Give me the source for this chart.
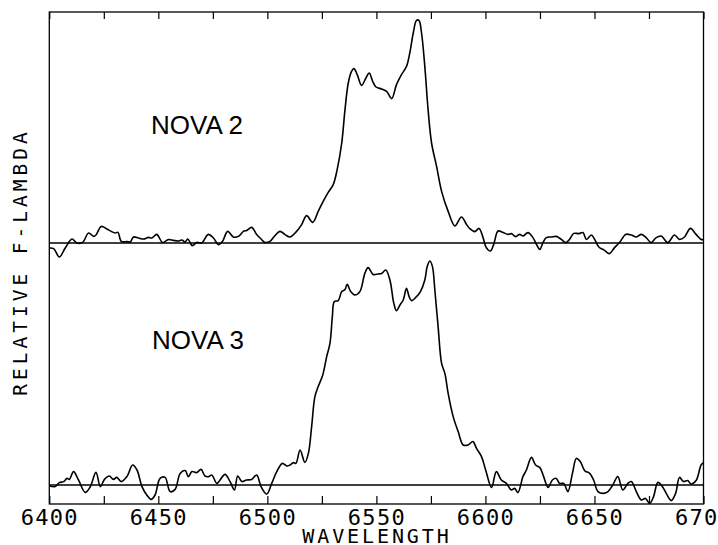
<!DOCTYPE html>
<html>
<head>
<meta charset="utf-8">
<script src="https://cdn.jsdelivr.net/npm/d3@7"></script>
<style>
  body { margin: 0; background: #fff; }
  .tick-label { font-family: "DejaVu Sans Mono", monospace; font-size: 22px; letter-spacing: 1.3px; }
  .axis-title { font-family: "DejaVu Sans Mono", monospace; fill: #000; }
  .nova-label { font-family: "Liberation Sans", Arial, sans-serif; font-size: 26px; fill: #000; }
</style>
</head>
<body>
<div id="chart"></div>
<script>
// Data: wavelength (Angstrom) and relative flux
const nova2Wave = [6400.0, 6402.0, 6404.6, 6407.3, 6410.4, 6412.7, 6415.3, 6418.0, 6420.3, 6421.4,
  6423.8, 6426.4, 6428.4, 6430.2, 6431.5, 6433.0, 6435.6, 6437.1, 6438.6, 6440.9,
  6443.2, 6445.5, 6447.0, 6449.3, 6451.9, 6454.6, 6456.9, 6459.2, 6460.8, 6462.3,
  6463.5, 6465.6, 6467.6, 6469.9, 6472.9, 6475.3, 6477.5, 6479.4, 6481.8, 6484.4,
  6486.7, 6489.0, 6490.5, 6492.8, 6495.1, 6497.1, 6498.9, 6501.2, 6503.2, 6505.8,
  6508.1, 6510.4, 6513.4, 6515.7, 6518.0, 6520.8, 6523.3, 6525.6, 6527.9, 6530.2,
  6532.0, 6534.1, 6535.6, 6537.1, 6538.6, 6539.7, 6541.2, 6543.2, 6545.2, 6546.7,
  6548.3, 6549.8, 6552.4, 6554.7, 6557.0, 6559.2, 6561.5, 6563.8, 6565.3, 6566.9,
  6568.4, 6569.5, 6570.7, 6572.2, 6573.7, 6575.3, 6577.6, 6579.9, 6582.9, 6586.0,
  6589.0, 6591.3, 6592.8, 6595.1, 6597.1, 6598.9, 6600.4, 6602.3, 6603.8, 6605.8,
  6608.1, 6610.4, 6611.9, 6613.9, 6615.7, 6617.2, 6619.5, 6621.8, 6623.4, 6624.9,
  6626.4, 6627.9, 6630.2, 6632.5, 6634.8, 6636.8, 6638.6, 6640.5, 6642.9, 6644.7,
  6646.3, 6648.6, 6650.1, 6652.0, 6654.6, 6656.9, 6659.2, 6661.5, 6664.3, 6666.9,
  6669.2, 6671.5, 6673.7, 6676.0, 6678.3, 6680.6, 6683.6, 6686.7, 6689.0, 6691.3,
  6694.0, 6696.6, 6698.9, 6700.0];
const nova2Flux = [-2.5, -2.8, -7, -2.5, 2, 0, 0.3, 5, 3.3, 4,
  8.3, 7, 5.8, 5, 5.3, 0.8, 0.7, 0.5, 3, 2.5,
  2, 2.8, 2.5, 4.3, 0.3, 1.7, 1.3, 1, 1.5, 0.5,
  2, -1.3, 0.3, 0, 4.3, 2.5, -0.8, 0.8, 5.8, 3,
  3.3, 5.8, 6.3, 7.8, 4.2, 2, 0.3, 0.8, 3.3, 5.8,
  4.2, 3, 5.8, 9.2, 13.7, 10.3, 15.8, 20.8, 25.3, 29.2,
  36.7, 50, 66.7, 80, 85.8, 87.2, 84.2, 78.8, 82.5, 85,
  80.8, 78, 77, 75.8, 72.2, 79.2, 84.2, 88.3, 95, 105,
  111.3, 111.3, 105, 88.3, 66.7, 50, 38.3, 25.8, 15.8, 8.5,
  13, 9.3, 7.2, 5.7, 7.3, 2.7, -2.3, -4, -0.7, 6,
  5.2, 4.3, 4.7, 3.2, 4.3, 3.5, 5.2, 2.7, -0.7, -3.2,
  0.2, 2.7, 3, 3.3, 1.8, 0.2, 1.8, 4.8, 4.7, 5.2,
  1.8, 4, 1.8, -2, -3.7, -5.3, -2.3, 0.2, 4.3, 4,
  3, 4.3, 2.7, 0.2, 2.7, 3.5, 0.2, 4, 1.8, 3,
  7.3, 4.3, 1.8, 1.7];

const nova3Wave = [6400.0, 6402.7, 6404.6, 6406.6, 6408.1, 6409.2, 6411.1, 6413.4, 6416.5, 6418.8,
  6421.4, 6423.4, 6425.3, 6427.5, 6429.4, 6431.0, 6433.0, 6435.6, 6438.2, 6440.2,
  6442.5, 6444.7, 6446.7, 6448.5, 6450.8, 6453.1, 6455.4, 6457.7, 6460.0, 6462.3,
  6463.8, 6465.4, 6467.6, 6469.6, 6471.4, 6473.0, 6474.5, 6476.8, 6478.3, 6480.6,
  6482.9, 6484.9, 6486.4, 6488.3, 6490.5, 6492.8, 6495.1, 6497.1, 6499.7, 6502.0,
  6504.3, 6506.9, 6508.9, 6510.4, 6511.9, 6513.1, 6515.0, 6517.2, 6518.8, 6520.3,
  6521.8, 6523.3, 6525.4, 6527.2, 6528.7, 6529.8, 6530.7, 6532.5, 6534.1, 6535.6,
  6536.6, 6538.2, 6540.1, 6542.4, 6544.7, 6546.2, 6548.5, 6550.8, 6552.4, 6554.3,
  6556.2, 6558.0, 6559.2, 6560.8, 6562.3, 6563.8, 6565.0, 6566.1, 6568.4, 6570.2,
  6572.2, 6573.3, 6574.5, 6575.7, 6576.8, 6578.3, 6579.9, 6581.4, 6582.9, 6585.2,
  6587.5, 6589.8, 6592.0, 6594.3, 6595.9, 6598.2, 6600.1, 6602.8, 6605.0, 6607.3,
  6609.6, 6611.9, 6613.4, 6614.9, 6617.2, 6618.8, 6621.1, 6623.0, 6624.9, 6626.7,
  6628.7, 6630.7, 6632.5, 6634.0, 6635.9, 6637.8, 6639.9, 6641.7, 6643.5, 6645.5,
  6647.8, 6649.6, 6651.6, 6653.9, 6656.2, 6658.4, 6660.7, 6663.0, 6665.3, 6666.9,
  6669.2, 6671.5, 6673.4, 6675.3, 6677.1, 6679.1, 6681.4, 6682.9, 6685.2, 6687.2,
  6689.0, 6690.8, 6692.8, 6694.3, 6696.6, 6698.9, 6700.0];
const nova3Flux = [-0.5, -0.8, 1.2, 1.7, 3.3, 2.8, 6.7, 2.5, -3.7, -0.8,
  6.3, -0.8, 2.8, 4.5, 2.8, 3.8, 1.7, 4.2, 10, 7.5,
  -0.8, -5, -7.2, -5, 3.3, 3.8, -3.3, -2.2, 5.8, 7.2,
  4.2, 6.7, 6.2, 7.8, 4.5, 4.2, 5, 0.8, 2.5, 5.3,
  1.7, -2.5, 4.5, 1.7, 2.5, 2.8, 5, -0.8, -4.5, 0.8,
  6.7, 10.8, 9.5, 10, 11.2, 10.8, 17.5, 11.3, 15.8, 29.2,
  44.2, 49.2, 55, 64.2, 70.8, 84.2, 91.7, 92.2, 96.7, 97.8,
  100.3, 96.7, 95, 96.7, 105.8, 108.7, 105.3, 105.5, 105.8, 107.5,
  102.5, 90.8, 87.2, 90, 92.5, 98.3, 94.2, 92.2, 94.2, 96.7,
  102.5, 109.2, 112, 109.2, 97.5, 79.2, 60.8, 55.8, 45.8, 34.2,
  26.7, 20, 20, 21.7, 18.3, 14.2, 7.5, -1.2, 6.7, 2.5,
  0.8, -2.5, -1.7, -3.8, 4.2, 7.5, 13.8, 10, 8.8, 4.2,
  -1.2, 2.5, 3.3, 0.8, 0.8, -3.3, 5.8, 13.3, 11.7, 7.2,
  5.8, 2.5, -3.3, -4.2, -3.3, 0, 4.2, -2.5, 0.8, 1.7,
  -3.3, -7.5, -6.7, -9.2, -5.8, 1.3, -1.2, -4.2, -7.8, -4.2,
  3.8, 1.7, 2.2, 0.5, 2.2, 10, 11.2];

// Nova 2 is plotted shifted up by a constant
const nova2Offset = 121;

const xDomain = [6400, 6700];
const yDomain = [-9.5, 236.5];
const minorTicks = d3.range(6400, 6701, 25);

function draw() {
  // Dimensions
  let dimensions = {
    width: 718,
    height: 545,
    left: 49.3,
    right: 703.5,
    top: 12,
    bottom: 504,
  };

  const svg = d3
    .select("#chart")
    .append("svg")
    .attr("width", dimensions.width)
    .attr("height", dimensions.height);

  // Scales
  const xScale = d3
    .scaleLinear()
    .domain(xDomain)
    .range([dimensions.left, dimensions.right]);

  const yScale = d3
    .scaleLinear()
    .domain(yDomain)
    .range([dimensions.bottom, dimensions.top]);

  // Frame
  svg
    .append("rect")
    .attr("x", dimensions.left)
    .attr("y", dimensions.top)
    .attr("width", dimensions.right - dimensions.left)
    .attr("height", dimensions.bottom - dimensions.top)
    .attr("fill", "none")
    .attr("stroke", "#000")
    .attr("stroke-width", 1.3);

  // Bottom axis: inward ticks every 25, labels every 50
  const xAxis = d3
    .axisBottom(xScale)
    .tickValues(minorTicks)
    .tickSizeInner(-8)
    .tickSizeOuter(0)
    .tickPadding(5)
    .tickFormat((d) => (d % 50 === 0 ? d3.format("d")(d) : ""));

  const xAxisGroup = svg
    .append("g")
    .attr("transform", `translate(0, ${dimensions.bottom})`)
    .call(xAxis);
  xAxisGroup.select(".domain").remove();
  xAxisGroup.selectAll("line").attr("stroke", "#000").attr("stroke-width", 1.2);
  xAxisGroup
    .selectAll("text")
    .attr("class", "tick-label")
    .attr("fill", "#000")
    .attr("font-size", null)
    .attr("font-family", null);

  // Top axis: inward ticks only
  const topAxis = d3
    .axisTop(xScale)
    .tickValues(minorTicks)
    .tickSizeInner(-7)
    .tickSizeOuter(0)
    .tickFormat("");

  const topGroup = svg
    .append("g")
    .attr("transform", `translate(0, ${dimensions.top})`)
    .call(topAxis);
  topGroup.select(".domain").remove();
  topGroup.selectAll("line").attr("stroke", "#000").attr("stroke-width", 1.2);

  // Baselines (zero level of each spectrum)
  svg
    .selectAll(".baseline")
    .data([0, nova2Offset])
    .join("line")
    .attr("class", "baseline")
    .attr("x1", xScale(xDomain[0]))
    .attr("x2", xScale(xDomain[1]))
    .attr("y1", (d) => yScale(d))
    .attr("y2", (d) => yScale(d))
    .attr("stroke", "#000")
    .attr("stroke-width", 1.3);

  // Spectra
  const spectra = [
    { wave: nova2Wave, flux: nova2Flux, offset: nova2Offset },
    { wave: nova3Wave, flux: nova3Flux, offset: 0 },
  ];

  const line = d3
    .line()
    .x((d) => xScale(d[0]))
    .y((d) => yScale(d[1]))
    .curve(d3.curveCatmullRom.alpha(0.5));

  svg
    .selectAll(".spectrum")
    .data(spectra)
    .join("path")
    .attr("class", "spectrum")
    .attr("d", (s) => line(s.wave.map((w, i) => [w, s.flux[i] + s.offset])))
    .attr("fill", "none")
    .attr("stroke", "#000")
    .attr("stroke-width", 1.6)
    .attr("stroke-linejoin", "round");

  // Labels
  svg
    .append("text")
    .attr("class", "nova-label")
    .attr("x", 151)
    .attr("y", 134)
    .text("NOVA 2");

  svg
    .append("text")
    .attr("class", "nova-label")
    .attr("x", 152)
    .attr("y", 349)
    .text("NOVA 3");

  svg
    .append("text")
    .attr("class", "axis-title")
    .attr("x", 377)
    .attr("y", 543)
    .attr("text-anchor", "middle")
    .style("font-size", "20px")
    .style("letter-spacing", "2.9px")
    .text("WAVELENGTH");

  svg
    .append("text")
    .attr("class", "axis-title")
    .attr("transform", "translate(27, 262) rotate(-90)")
    .attr("text-anchor", "middle")
    .style("font-size", "19.5px")
    .style("letter-spacing", "4px")
    .text("RELATIVE F-LAMBDA");
}

draw();
</script>
</body>
</html>
